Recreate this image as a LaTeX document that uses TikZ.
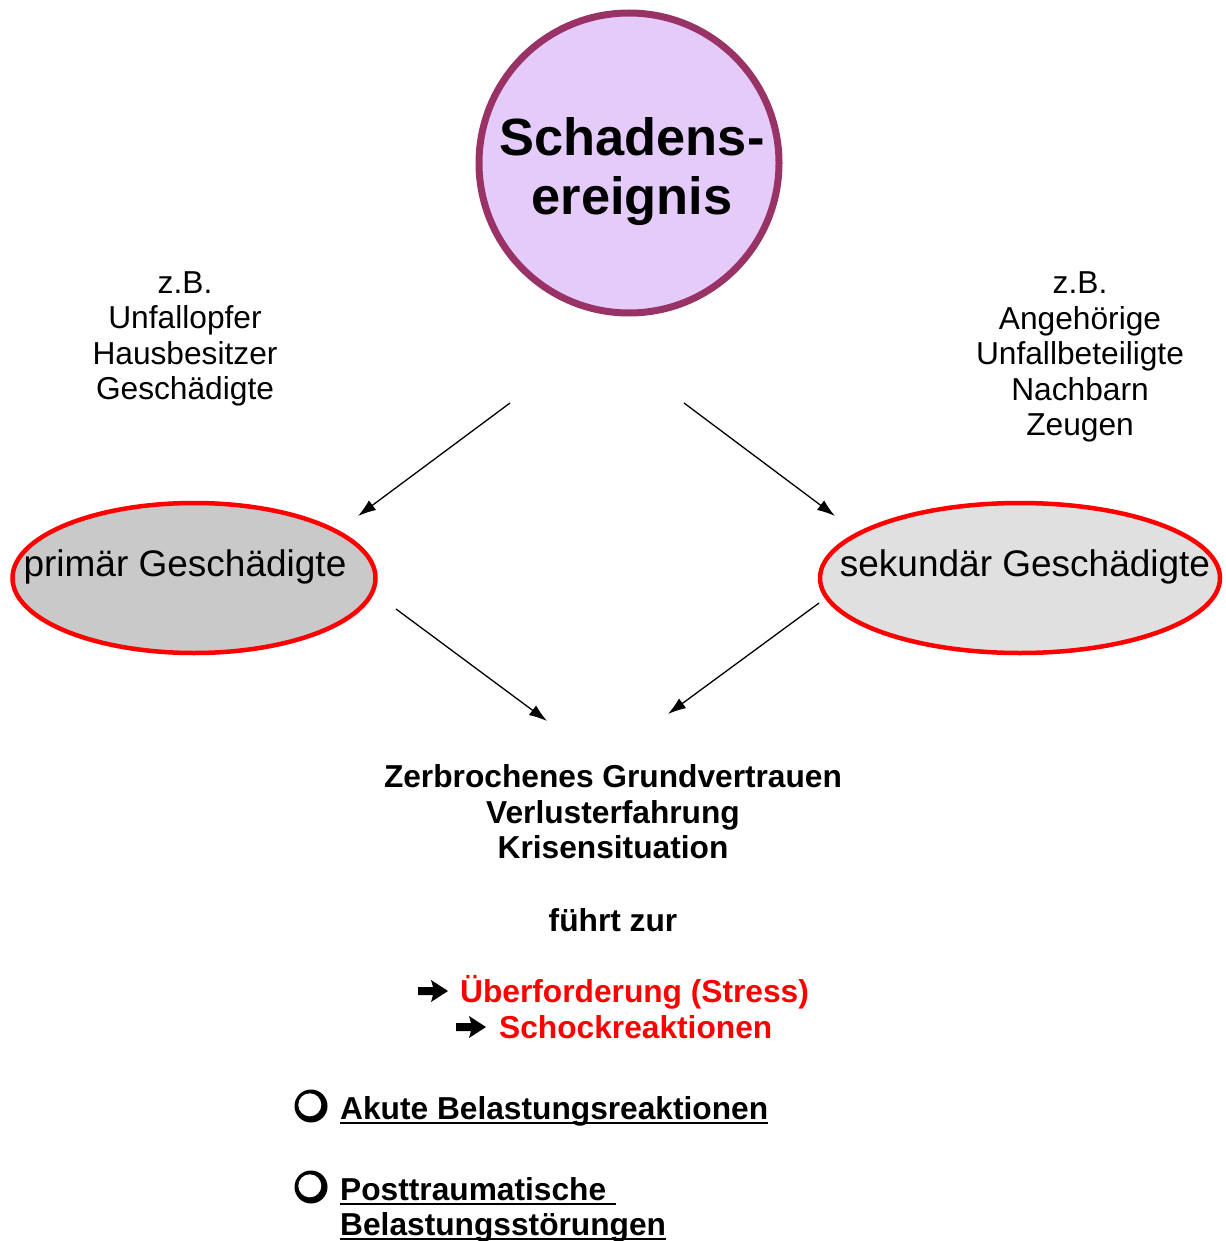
\documentclass[tikz,border=0pt]{standalone}
\usepackage{fontspec}
\setmainfont{Liberation Sans}
\usetikzlibrary{arrows.meta,shapes.geometric,calc}
\definecolor{plum}{HTML}{993366}
\definecolor{lavender}{HTML}{E4CBFA}
\definecolor{greyA}{HTML}{C9C9C9}
\definecolor{greyB}{HTML}{E0E0E0}
\begin{document}
\begin{tikzpicture}[x=1pt,y=-1pt,
  txt/.style={font=\fontsize{31.7}{35.5}\selectfont, align=center, inner sep=0pt},
  btxt/.style={font=\fontsize{31.7}{35.5}\selectfont\bfseries, align=center, inner sep=0pt},
  etxt/.style={font=\fontsize{37}{42}\selectfont, inner sep=0pt},
  grp/.style={ellipse, draw=red, line width=4.5pt, inner sep=0pt},
  conn/.style={line width=1.3pt, -{Latex[length=18pt,width=12pt]}},
  uline/.style={line width=2.6pt},
  ring/.pic={\fill (0,0) circle (16.5); \fill[white] (-1.2,-1.2) circle (11.5);},
  fatarrow/.pic={\fill (0,-4) -- (15,-4) -- (13,-11) -- (30,0) -- (13,11) -- (15,4) -- (0,4) -- cycle;}]
\useasboundingbox (0,0) rectangle (1225,1241);

% central event
\node[circle, draw=plum, fill=lavender, line width=7pt, minimum size=300pt, inner sep=0pt] (ev) at (629,163) {};
\node[font=\fontsize{52.4}{59}\selectfont\bfseries, align=center, inner sep=0pt] (evt) at (632,172) {Schadens-\\ereignis};

% examples
\node[txt] (lex) at (185,339) {z.B.\\Unfallopfer\\Hausbesitzer\\Geschädigte};
\node[txt] (rex) at (1080,357) {z.B.\\Angehörige\\Unfallbeteiligte\\Nachbarn\\Zeugen};

% affected groups
\node[grp, fill=greyA, minimum width=363pt, minimum height=150pt] (prim) at (194,578) {};
\node[etxt] (primt) at (185,567) {primär Geschädigte};
\node[grp, fill=greyB, minimum width=400pt, minimum height=150pt] (sek) at (1020,578) {};
\node[etxt] (sekt) at (1025,567) {sekundär Geschädigte};

% connector ends
\coordinate (a1) at (510,403); \coordinate (b1) at (358,516);
\coordinate (a2) at (684,403); \coordinate (b2) at (835,516);
\coordinate (a3) at (396,609); \coordinate (b3) at (547,721);
\coordinate (a4) at (819,603); \coordinate (b4) at (668,714);
\draw[conn] (a1) -- (b1);
\draw[conn] (a2) -- (b2);
\draw[conn] (a3) -- (b3);
\draw[conn] (a4) -- (b4);

% consequences
\node[btxt] (cons) at (613,812) {Zerbrochenes Grundvertrauen\\Verlusterfahrung\\Krisensituation};
\node[btxt] (leads) at (613,920) {führt zur};
\node[btxt, text=red, anchor=base west] (r1) at (460,1002) {Überforderung (Stress)};
\node[btxt, text=red, anchor=base west] (r2) at (499,1038) {Schockreaktionen};
\pic at ($(r1.base west)+(-42,-11)$) {fatarrow};
\pic at ($(r2.base west)+(-43,-11)$) {fatarrow};

% disorders
\pic at (311,1106) {ring};
\pic at (311,1187) {ring};
\node[btxt, anchor=base west] (d1) at (340,1119) {Akute Belastungsreaktionen};
\node[btxt, anchor=base west] (d2) at (340,1200) {Posttraumatische};
\node[btxt, anchor=base west] (d3) at (340,1235) {Belastungsstörungen};
\draw[uline] ($(d1.base west)+(0,4)$) -- ($(d1.base east)+(0,4)$);
\draw[uline] ($(d2.base west)+(0,4)$) -- ($(d2.base east)+(10,4)$);
\draw[uline] ($(d3.base west)+(0,4)$) -- ($(d3.base east)+(0,4)$);
\end{tikzpicture}
\end{document}
